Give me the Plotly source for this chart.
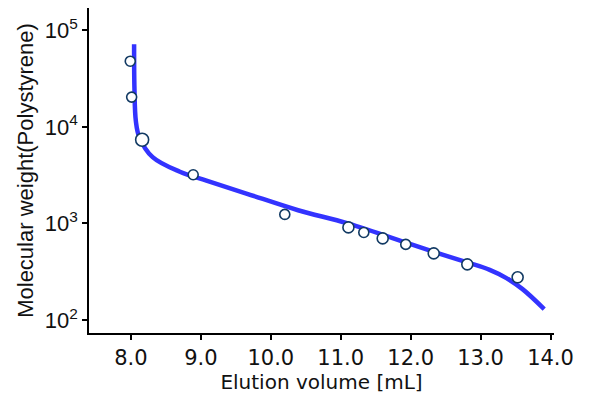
import plotly.graph_objects as go

# Calibration standards (measured points)
std_volume = [7.99, 8.01, 8.16, 8.89, 10.2, 11.11, 11.33, 11.6, 11.93, 12.33, 12.81, 13.53]
std_mw = [47800, 20300, 7350, 3190, 1240, 910, 807, 700, 607, 490, 377, 277]

# Fitted calibration curve
fit_volume = [8.045, 8.05, 8.07, 8.12, 8.31, 8.7, 9.08, 9.65, 10.39, 11.1, 12.0, 12.41, 12.82, 13.13, 13.37, 13.6, 13.91]
fit_mw = [71600, 25000, 11500, 7800, 4860, 3430, 2770, 2040, 1370, 1000, 610, 487, 393, 331, 272, 209, 130]

x_ticks = [8.0, 9.0, 10.0, 11.0, 12.0, 13.0, 14.0]
x_tick_labels = ["8.0", "9.0", "10.0", "11.0", "12.0", "13.0", "14.0"]
y_ticks = [100, 1000, 10000, 100000]
y_tick_labels = ["10<sup>2</sup>", "10<sup>3</sup>", "10<sup>4</sup>", "10<sup>5</sup>"]

marker_sizes = [10, 10, 13, 10, 10, 11, 10, 11, 10, 11, 11, 11]

fig = go.Figure()
fig.add_trace(go.Scatter(
    x=fit_volume, y=fit_mw, mode="lines",
    line=dict(color="#3333ff", width=4.5, shape="spline", smoothing=1.0),
    hoverinfo="skip", showlegend=False,
))
fig.add_trace(go.Scatter(
    x=std_volume, y=std_mw, mode="markers",
    marker=dict(color="white", opacity=1, size=marker_sizes, line=dict(color="#123a63", width=1.6)),
    showlegend=False,
))

fig.update_layout(
    width=600, height=400,
    margin=dict(l=89, r=46, t=8, b=67),
    paper_bgcolor="white", plot_bgcolor="white",
    xaxis=dict(
        range=[7.4, 14.05], tickvals=x_ticks, ticktext=x_tick_labels,
        showline=True, linecolor="black", linewidth=1.5,
        ticks="outside", ticklen=5, tickwidth=1.5, tickcolor="black",
        showgrid=False, zeroline=False, automargin=False,
        tickfont=dict(family="DejaVu Sans", size=21, color="#111"),
        title=dict(text="Elution volume [mL]", font=dict(family="DejaVu Sans", size=20, color="#111"), standoff=3),
    ),
    yaxis=dict(
        type="log", range=[1.866, 5.23], tickvals=y_ticks, ticktext=y_tick_labels,
        showline=True, linecolor="black", linewidth=1.5,
        ticks="outside", ticklen=5, tickwidth=1.5, tickcolor="black",
        showgrid=False, zeroline=False, automargin=False,
        tickfont=dict(family="Liberation Sans", size=22, color="#111"),
        title=dict(text="Molecular weight(Polystyrene)", font=dict(family="Liberation Sans", size=22, color="#111"), standoff=5),
    ),
)

fig.write_html("out.html", config={"displayModeBar": False},
               post_script="document.body.style.margin='0';document.body.style.padding='0';")
